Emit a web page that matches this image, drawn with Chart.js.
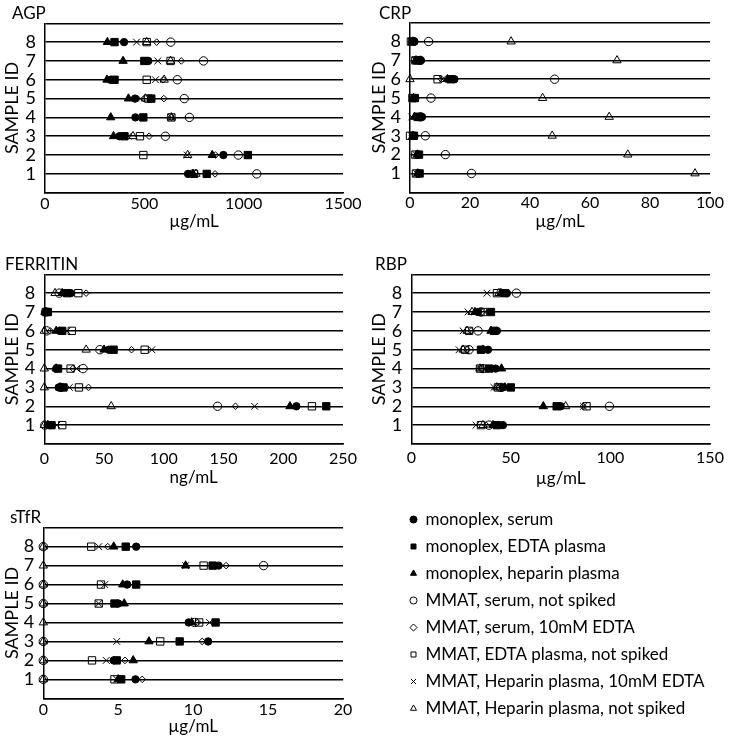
<!DOCTYPE html>
<html>
<head>
<meta charset="utf-8">
<script src="https://cdn.jsdelivr.net/npm/chart.js@4.4.1/dist/chart.umd.min.js"></script>
<style>
  html, body { margin: 0; padding: 0; background: #fff; overflow: hidden; }
  #wrap { position: relative; width: 734px; height: 741px; }
  canvas { position: absolute; }
</style>
</head>
<body>
<div id="wrap">
  <canvas id="agp" width="367" height="240" style="left:0;top:0"></canvas>
  <canvas id="crp" width="367" height="240" style="left:367px;top:0"></canvas>
  <canvas id="ferritin" width="367" height="240" style="left:0;top:251px"></canvas>
  <canvas id="rbp" width="367" height="240" style="left:367px;top:251px"></canvas>
  <canvas id="stfr" width="367" height="236" style="left:0;top:505px"></canvas>
  <canvas id="legend" width="334" height="236" style="left:400px;top:501px"></canvas>
</div>
<script>
const sampleIds = [1, 2, 3, 4, 5, 6, 7, 8];

const seriesNames = [
  'monoplex, serum',
  'monoplex, EDTA plasma',
  'monoplex, heparin plasma',
  'MMAT, serum, not spiked',
  'MMAT, serum, 10mM EDTA',
  'MMAT, EDTA plasma, not spiked',
  'MMAT, Heparin plasma, 10mM EDTA',
  'MMAT, Heparin plasma, not spiked'
];

// one row per series (same order as seriesNames), values for sample 1..8
const agp = [
  [720, 898, 375, 455, 453, 330, 520, 398],
  [814, 1021, 400, 495, 535, 350, 500, 350],
  [745, 842, 345, 331, 420, 312, 393, 314],
  [1066, 973, 606, 727, 701, 666, 798, 633],
  [856, 858, 524, 636, 598, 595, 686, 562],
  [750, 495, 478, 636, 520, 512, 632, 512],
  [730, 716, 420, 636, 482, 556, 568, 461],
  [760, 718, 443, 636, 505, 600, 632, 512]
];

const crp = [
  [3.0, 2.8, 1.5, 4.0, 1.8, 14.8, 3.5, 1.5],
  [3.2, 3.0, 1.3, 3.0, 1.6, 13.5, 2.5, 0.8],
  [2.6, 2.5, 1.0, 1.5, 1.2, 12.5, 2.0, 1.0],
  [20.5, 11.8, 5.1, 3.5, 7.0, 48.2, 3.5, 6.2],
  [2.5, 2.2, 0.8, 2.0, 1.0, 10.5, 2.0, 0.5],
  [2.0, 1.8, 0.0, 2.5, 0.8, 9.2, 1.8, 0.3],
  [2.2, 2.0, 0.5, 0.6, 0.8, 10.8, 1.8, 0.5],
  [95.0, 72.6, 47.4, 66.4, 44.2, 0.0, 69.0, 33.7]
];

const ferritin = [
  [5, 211, 12, 10, 54, 13, 2.5, 22],
  [6, 236, 16, 11.5, 58, 15, 3, 19],
  [3, 205.6, 13, 10, 50, 10, 1.5, 15],
  [0.5, 145, 14, 32.5, 46.5, 2, 1, 12.5],
  [2, 160, 37, 24, 73, 5, 1, 35],
  [15, 224, 29, 22, 84, 23, 1.5, 28.5],
  [10.5, 176, 21, 27, 90, 19, 1, 20],
  [0, 56, 0, 0, 35, 0, 0.5, 9]
];

const rbp = [
  [46, 75, 46, 42.3, 38.5, 43, 33.5, 48],
  [43, 73, 50, 39, 35, 41.5, 40, 47],
  [41, 66.3, 47, 45.3, 36, 40, 32, 45],
  [39, 99.5, 45, 36, 29, 33.5, 35, 52.8],
  [37.5, 86.3, 44, 35.5, 28, 30, 35.5, 45],
  [35, 88, 43.5, 34.5, 27, 29, 36, 43],
  [32.5, 86.5, 41.5, 34.5, 24, 26, 28.5, 38],
  [36, 77.5, 43, 34.5, 26, 28, 30.5, 44]
];

const stfr = [
  [6.15, 4.7, 11.0, 9.7, 5.0, 5.6, 11.7, 6.2],
  [5.2, 4.9, 9.1, 11.5, 4.75, 6.2, 11.3, 5.5],
  [5.0, 6.0, 7.05, 9.9, 5.4, 5.3, 9.5, 4.7],
  [0, 0, 0, 10.1, 0, 0, 14.7, 0],
  [6.6, 5.45, 10.6, 10.3, 4.9, 5.5, 12.2, 4.3],
  [4.75, 3.25, 7.8, 10.4, 3.7, 3.85, 10.7, 3.2],
  [4.9, 4.2, 4.9, 11.1, 3.7, 4.1, 9.5, 3.7],
  [0, 0, 0, 0, 0, 0, 0, 0]
];

// marker look per series
const markers = [
  { pointStyle: 'circle', radius: 3.7, filled: true },
  { pointStyle: 'rect', radius: 5.2, filled: true },
  { pointStyle: 'triangle', radius: 4.8, filled: true },
  { pointStyle: 'circle', radius: 4.2, filled: false },
  { pointStyle: 'rectRot', radius: 3.3, filled: false },
  { pointStyle: 'rect', radius: 5.2, filled: false },
  { pointStyle: 'crossRot', radius: 4.8, filled: false },
  { pointStyle: 'triangle', radius: 4.8, filled: false }
];

const FONT = 'Lato, "Open Sans", sans-serif';
const LH = 1.2;
const sizes = { name: 17, xTick: 16, yTick: 18, unit: 17, yTitle: 18, legend: 17 };

Chart.defaults.color = '#000';
Chart.defaults.font.family = FONT;
Chart.defaults.font.size = 16;
Chart.defaults.font.lineHeight = LH;

const panels = [
  { id: 'agp', name: 'AGP', values: agp, max: 1500, step: 500, unit: 'µg/mL',
    nameX: 12, nameY: 14, axisLeft: 45, top: 23.3, bottom: 192.7, tickGap: 10.8, titleGap: 29 },
  { id: 'crp', name: 'CRP', values: crp, max: 100, step: 20, unit: 'µg/mL',
    nameX: 12, nameY: 14, axisLeft: 43, top: 22.7, bottom: 192.3, tickGap: 11, titleGap: 29.4 },
  { id: 'ferritin', name: 'FERRITIN', values: ferritin, max: 250, step: 50, unit: 'ng/mL',
    nameX: 5, nameY: 14, axisLeft: 44.3, top: 23.3, bottom: 193, tickGap: 14.5, titleGap: 34 },
  { id: 'rbp', name: 'RBP', values: rbp, max: 150, step: 50, unit: 'µg/mL',
    nameX: 8, nameY: 14, axisLeft: 44.3, top: 23.3, bottom: 193, tickGap: 14.3, titleGap: 35 },
  { id: 'stfr', name: 'sTfR', values: stfr, max: 20, step: 5, unit: 'µg/mL',
    nameX: 10, nameY: 12.7, axisLeft: 43.3, top: 22.7, bottom: 193.3, tickGap: 11.7, titleGap: 28.4 }
];

function styleFor(i) {
  const m = markers[i];
  return {
    pointStyle: m.pointStyle,
    pointRadius: m.radius,
    pointHoverRadius: m.radius,
    pointBackgroundColor: m.filled ? '#000' : 'rgba(0,0,0,0)',
    pointBorderColor: '#000',
    pointBorderWidth: 1,
    backgroundColor: m.filled ? '#000' : 'rgba(0,0,0,0)',
    borderColor: '#000',
    borderWidth: 1
  };
}

const panelName = {
  id: 'panelName',
  afterDraw(chart, args, opts) {
    const ctx = chart.ctx;
    ctx.save();
    ctx.font = sizes.name + 'px ' + FONT;
    ctx.fillStyle = '#000';
    ctx.textAlign = 'left';
    ctx.textBaseline = 'middle';
    ctx.fillText(opts.text, opts.x, opts.y);
    ctx.restore();
  }
};

panels.forEach(p => {
  const canvas = document.getElementById(p.id);
  const h = canvas.height;
  const xAxisH = h - p.bottom;

  const datasets = seriesNames.map((name, i) => Object.assign({
    label: name,
    data: sampleIds.map((id, k) => ({ x: p.values[i][k], y: id })),
    clip: false
  }, styleFor(i)));

  new Chart(canvas, {
    type: 'scatter',
    data: { datasets },
    plugins: [panelName],
    options: {
      responsive: false,
      animation: false,
      events: [],
      layout: { padding: { left: 0, top: p.top, right: 24, bottom: 0 } },
      plugins: {
        legend: { display: false },
        tooltip: { enabled: false },
        panelName: { text: p.name, x: p.nameX, y: p.nameY }
      },
      scales: {
        x: {
          type: 'linear',
          min: 0,
          max: p.max,
          ticks: {
            stepSize: p.step,
            autoSkip: false,
            maxRotation: 0,
            font: { size: sizes.xTick },
            padding: p.tickGap - sizes.xTick * LH / 2,
            color: '#000',
            callback: v => String(v)
          },
          grid: { display: false, drawTicks: false },
          border: { display: true, color: '#000', width: 1.5 },
          title: { display: true, text: p.unit, color: '#000', font: { size: sizes.unit },
                   padding: { top: 0, bottom: xAxisH - p.titleGap - sizes.unit * LH / 2 } },
          afterFit: scale => { scale.height = xAxisH; }
        },
        y: {
          type: 'linear',
          min: 0,
          max: 9,
          ticks: {
            stepSize: 1,
            autoSkip: false,
            padding: 9,
            font: { size: sizes.yTick },
            color: '#000',
            callback: v => (v >= 1 && v <= 8) ? String(v) : ''
          },
          grid: { color: '#000', lineWidth: 1.5, drawTicks: false },
          border: { display: true, color: '#000', width: 1.5 },
          title: { display: true, text: 'SAMPLE ID', color: '#000', font: { size: sizes.yTitle },
                   padding: { top: 12 - sizes.yTitle * LH / 2, bottom: 0 } },
          afterFit: scale => { scale.width = p.axisLeft; }
        }
      }
    }
  });
});

// legend block in the lower right corner
new Chart(document.getElementById('legend'), {
  type: 'scatter',
  data: {
    datasets: seriesNames.map((name, i) => Object.assign({ label: name, data: [] }, styleFor(i)))
  },
  options: {
    responsive: false,
    animation: false,
    events: [],
    layout: { padding: 0 },
    scales: { x: { display: false }, y: { display: false } },
    plugins: {
      tooltip: { enabled: false },
      legend: {
        position: 'left',
        align: 'start',
        maxWidth: 330,
        labels: {
          usePointStyle: true,
          boxWidth: 7,
          boxHeight: 5,
          padding: 27 - sizes.legend,
          color: '#000',
          font: { size: sizes.legend }
        }
      }
    }
  }
});
</script>
</body>
</html>
